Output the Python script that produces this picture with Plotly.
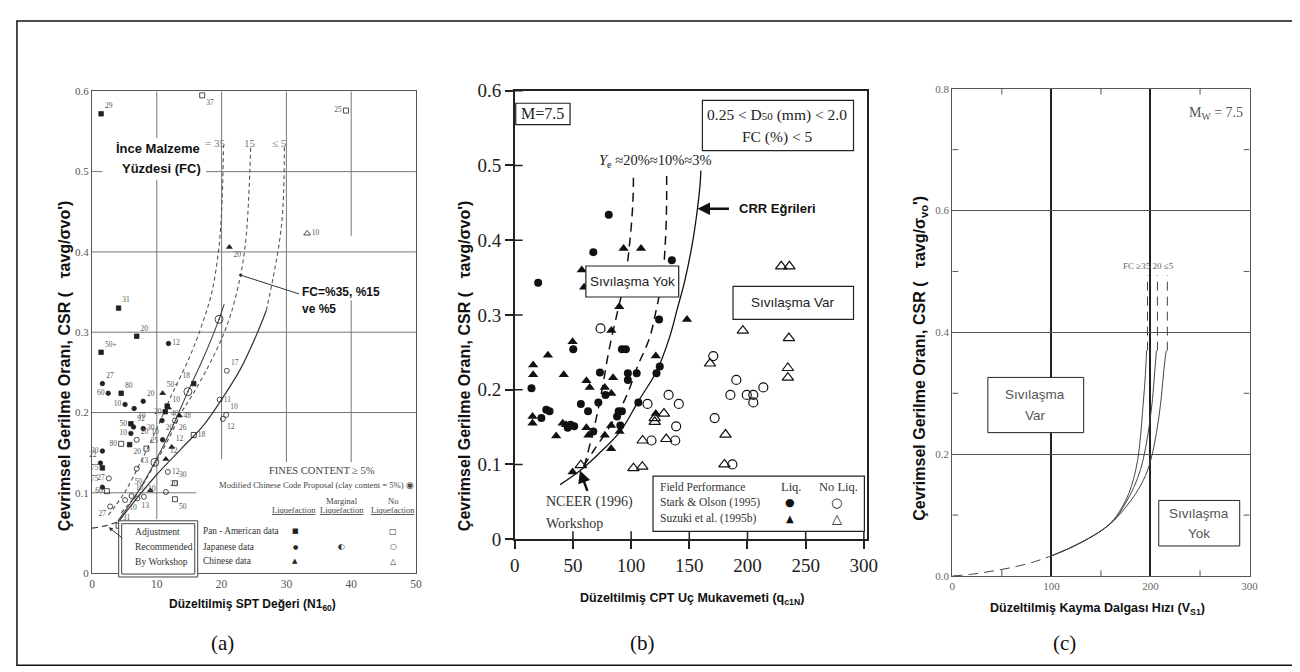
import plotly.graph_objects as go

W, H = 1300, 672
def PX(x): return x / W
def PY(y): return 1 - y / H

SERIF = "Liberation Serif, Times New Roman, serif"
SANS = "Liberation Sans, Arial, sans-serif"
GLYPH = "DejaVu Sans, sans-serif"

# ---------------- Panel (a): SPT ----------------
a_x_ticks = [0, 10, 20, 30, 40, 50]
a_y_ticks = [0, 0.1, 0.2, 0.3, 0.4, 0.5, 0.6]
a_y_ticktext = ["0", "0.1", "0.2", "0.3", "0.4", "0.5", "0.6"]

# Pan-American liquefaction (filled squares)
a_pan_liq_x = [1.4, 4.1, 6.9, 1.4, 4.5, 15.7, 6.0, 5.8, 1.6, 11.3, 11.6]
a_pan_liq_y = [0.572, 0.330, 0.295, 0.275, 0.224, 0.236, 0.186, 0.160, 0.131, 0.201, 0.208]
a_pan_liq_t = ["29", "31", "20", "50+", "80", "18", "50", "20", "75", "20", "40"]
a_pan_liq_p = ["top right", "top right", "top right", "top right", "top right", "top left",
               "middle left", "bottom right", "middle left", "middle left", "bottom right"]
# Japanese liquefaction (filled circles)
a_jap_liq_x = [11.8, 1.6, 2.5, 7.9, 5.1, 6.5, 6.4, 7.9, 6.0, 10.9, 1.6, 1.3, 1.6, 10.8]
a_jap_liq_y = [0.286, 0.236, 0.224, 0.214, 0.210, 0.205, 0.182, 0.180, 0.174, 0.166, 0.152, 0.137, 0.107, 0.190]
a_jap_liq_t = ["12", "27", "60", "20", "10", "10", "92", "30", "10", "10", "30", "22", "75", "20"]
a_jap_liq_p = ["middle right", "top right", "middle left", "top right", "middle left", "bottom right",
               "top right", "middle right", "middle left", "top left", "middle left", "top left",
               "top left", "bottom right"]
# Chinese liquefaction (filled triangles)
a_chi_liq_x = [21.2, 10.9, 12.3, 11.4, 9.0, 11.8, 13.5]
a_chi_liq_y = [0.406, 0.224, 0.157, 0.142, 0.103, 0.206, 0.196]
a_chi_liq_t = ["20", "50+", "12", "12", "50+", "10", "48"]
a_chi_liq_p = ["bottom right", "top right", "top right", "top right", "top left", "top right", "middle right"]
# Pan-American no liquefaction (open squares)
a_pan_no_x = [17.0, 39.2, 15.7, 4.5, 8.4, 12.8, 12.8, 2.3, 4.1]
a_pan_no_y = [0.595, 0.576, 0.172, 0.161, 0.155, 0.112, 0.092, 0.102, 0.059]
a_pan_no_t = ["37", "25", "18", "80", "25", "30", "50", "60", "31"]
a_pan_no_p = ["bottom right", "middle left", "middle right", "middle left", "top right", "top right",
              "bottom right", "middle left", "top right"]
# Japanese no liquefaction (open circles)
a_jap_no_x = [20.8, 19.7, 20.7, 20.2, 12.8, 6.9, 6.9, 2.6, 11.7, 11.4, 6.1, 8.0, 7.0, 5.1, 2.8]
a_jap_no_y = [0.252, 0.216, 0.197, 0.192, 0.190, 0.166, 0.130, 0.118, 0.126, 0.101, 0.096, 0.095, 0.093, 0.091, 0.083]
a_jap_no_t = ["17", "11", "10", "12", "26", "20", "13", "27", "12", "20", "10", "10", "13", "10", "27"]
a_jap_no_p = ["top right", "middle right", "top right", "bottom right", "bottom right", "top right",
              "top right", "middle left", "middle right", "top right", "top right", "top right",
              "bottom right", "bottom right", "bottom left"]
# Chinese no liquefaction (open triangles)
a_chi_no_x = [33.2]
a_chi_no_y = [0.423]
a_chi_no_t = ["10"]
# Modified Chinese Code proposal points
a_mcc_x = [19.6, 14.8, 9.7]
a_mcc_y = [0.316, 0.226, 0.138]

# Curves
a_fc35_x = [2.5, 5.0, 7.5, 10.0, 12.3, 15.0, 17.0, 18.5, 19.5, 20.0, 20.3]
a_fc35_y = [0.072, 0.10, 0.138, 0.18, 0.222, 0.268, 0.31, 0.35, 0.40, 0.45, 0.533]
a_fc15_x = [4.5, 7.0, 10.0, 12.0, 13.8, 15.5, 17.8, 19.9, 21.4, 22.9, 23.8, 24.5]
a_fc15_y = [0.075, 0.10, 0.14, 0.17, 0.20, 0.222, 0.255, 0.29, 0.322, 0.37, 0.42, 0.533]
a_chin_x = [4.0, 7.0, 9.7, 12.3, 14.8, 17.3, 19.6, 20.4]
a_chin_y = [0.065, 0.10, 0.138, 0.18, 0.226, 0.27, 0.316, 0.335]
a_fc5_x = [4.2, 6.2, 9.7, 13.8, 17.3, 19.9, 22.9, 25.4, 26.9]
a_fc5_y = [0.065, 0.086, 0.12, 0.155, 0.185, 0.215, 0.254, 0.297, 0.327]
a_fc5_top_x = [26.9, 28.0, 29.0, 29.5, 29.7]
a_fc5_top_y = [0.327, 0.37, 0.417, 0.46, 0.533]
a_adj_x = [0.0, 1.5, 3.0, 4.2]
a_adj_y = [0.056, 0.058, 0.061, 0.065]

# ---------------- Panel (b): CPT ----------------
b_x_ticks = [0, 50, 100, 150, 200, 250, 300]
b_y_ticks = [0, 0.1, 0.2, 0.3, 0.4, 0.5, 0.6]
b_y_ticktext = ["0", "0.1", "0.2", "0.3", "0.4", "0.5", "0.6"]

b_so_liq_x = [80.8, 20.1, 67.5, 135, 124, 50.3, 92.1, 95.5, 14.4, 73.2, 97.2, 97.2, 104.8, 124.6, 121.8,
              78, 106.2, 56.8, 71.8, 63, 22.9, 27.1, 29.9, 45.5, 51.1, 48, 67.5, 87.9, 89.3, 92.1, 90.7]
b_so_liq_y = [0.434, 0.343, 0.384, 0.373, 0.294, 0.254, 0.254, 0.254, 0.202, 0.223, 0.222, 0.213, 0.222, 0.231,
              0.222, 0.193, 0.183, 0.181, 0.183, 0.171, 0.162, 0.173, 0.171, 0.149, 0.151, 0.153, 0.144,
              0.164, 0.171, 0.171, 0.152]
b_su_liq_x = [93.5, 108.5, 57.6, 59.6, 89.8, 148, 83, 49.7, 28.5, 121.2, 15.8, 15.8, 42.1, 61.6, 64.4, 77.4,
              84.5, 83, 15.3, 15.3, 35.6, 41.2, 44.1, 61.6, 63.3, 77.4, 82.8, 82.8, 90.1, 121.2, 49.7]
b_su_liq_y = [0.389, 0.389, 0.360, 0.337, 0.311, 0.294, 0.279, 0.264, 0.246, 0.245, 0.233, 0.220, 0.220,
              0.212, 0.203, 0.203, 0.216, 0.195, 0.164, 0.155, 0.138, 0.155, 0.153, 0.149, 0.139, 0.139,
              0.152, 0.121, 0.144, 0.168, 0.090]
b_so_no_x = [73.7, 170.6, 190.4, 185.3, 199.4, 205, 213.6, 205, 132.2, 141, 114.1, 117.5, 137.9, 138.7, 171.8, 187]
b_so_no_y = [0.282, 0.245, 0.213, 0.193, 0.193, 0.193, 0.203, 0.183, 0.193, 0.181, 0.181, 0.132, 0.132,
             0.151, 0.162, 0.100]
b_su_no_x = [196, 229, 236, 235.6, 167.8, 234.7, 234.7, 120.3, 120.3, 128.2, 109.9, 130.2, 102, 109.6, 56.8, 181.1, 180.2]
b_su_no_y = [0.279, 0.365, 0.365, 0.269, 0.235, 0.229, 0.216, 0.162, 0.157, 0.168, 0.132, 0.134, 0.095,
             0.097, 0.099, 0.140, 0.100]

b_crr3_x = [39, 57, 72, 91, 106, 122, 133, 140, 146, 152, 156, 159, 160]
b_crr3_y = [0.073, 0.093, 0.114, 0.145, 0.184, 0.225, 0.27, 0.31, 0.345, 0.39, 0.43, 0.47, 0.493]
b_crr10_x = [59, 68, 81, 95, 106, 116, 122, 127, 129.5, 130.5, 130.5]
b_crr10_y = [0.097, 0.119, 0.149, 0.188, 0.233, 0.27, 0.31, 0.35, 0.40, 0.45, 0.49]
b_crr20_x = [59.6, 62.5, 69.5, 75, 81, 89, 95, 99, 101.5, 102]
b_crr20_y = [0.097, 0.114, 0.158, 0.20, 0.253, 0.309, 0.35, 0.40, 0.45, 0.487]

# ---------------- Panel (c): Vs ----------------
c_x_ticks = [0, 100, 200, 300]
c_x_minor = [50, 150, 250]
c_y_ticks = [0, 0.2, 0.4, 0.6, 0.8]
c_y_minor = [0.1, 0.3, 0.5, 0.7]
c_y_ticktext = ["0.0", "0.2", "0.4", "0.6", "0.8"]
c_low_x = [0, 20, 40, 60, 80, 100]
c_low_y = [0, 0.003, 0.008, 0.014, 0.022, 0.033]
c_fc35_x = [100, 120, 140, 155, 165, 172, 178, 183, 187, 190, 192, 194, 195.5, 196]
c_fc35_y = [0.033, 0.047, 0.064, 0.08, 0.097, 0.115, 0.135, 0.16, 0.19, 0.23, 0.27, 0.31, 0.35, 0.37]
c_fc20_x = [100, 120, 140, 155, 165, 175, 183, 190, 195, 199, 202, 204, 205.5, 206]
c_fc20_y = [0.033, 0.047, 0.064, 0.08, 0.095, 0.12, 0.145, 0.175, 0.21, 0.25, 0.29, 0.33, 0.36, 0.37]
c_fc5_x = [100, 120, 140, 155, 165, 175, 185, 195, 201, 206, 210, 213, 215, 216]
c_fc5_y = [0.033, 0.047, 0.064, 0.08, 0.094, 0.113, 0.135, 0.165, 0.195, 0.235, 0.28, 0.33, 0.36, 0.37]
c_asym_x = [197, 207, 217]
c_asym_y0 = 0.37
c_asym_y1 = 0.494

fig = go.Figure()

# ---- panel (a) traces ----
def a_curve(x, y, dash, color="#555", width=1.1):
    fig.add_trace(go.Scatter(x=x, y=y, mode="lines", line=dict(color=color, width=width, dash=dash, shape="spline"),
                             xaxis="x", yaxis="y", hoverinfo="skip"))

a_curve(a_fc35_x, a_fc35_y, "4px,3px")
a_curve(a_fc15_x, a_fc15_y, "4px,3px")
a_curve(a_chin_x, a_chin_y, "solid", "#444", 1.1)
a_curve(a_fc5_x, a_fc5_y, "solid", "#333", 1.2)
a_curve(a_fc5_top_x, a_fc5_top_y, "4px,3px")
a_curve(a_adj_x, a_adj_y, "6px,4px", "#333", 1.1)

def a_pts(x, y, t, p, symbol, size, lw=0.8):
    fig.add_trace(go.Scatter(x=x, y=y, text=t, textposition=p, mode="markers+text",
                             marker=dict(symbol=symbol, size=size, color="#222", line=dict(color="#222", width=lw)),
                             textfont=dict(family=SERIF, size=7.5, color="#555"),
                             xaxis="x", yaxis="y", cliponaxis=False, hoverinfo="skip"))

a_pts(a_pan_liq_x, a_pan_liq_y, a_pan_liq_t, a_pan_liq_p, "square", 4.5)
a_pts(a_jap_liq_x, a_jap_liq_y, a_jap_liq_t, a_jap_liq_p, "circle", 4.5)
a_pts(a_chi_liq_x, a_chi_liq_y, a_chi_liq_t, a_chi_liq_p, "triangle-up", 5)
a_pts(a_pan_no_x, a_pan_no_y, a_pan_no_t, a_pan_no_p, "square-open", 5)
a_pts(a_jap_no_x, a_jap_no_y, a_jap_no_t, a_jap_no_p, "circle-open", 5)
a_pts(a_chi_no_x, a_chi_no_y, a_chi_no_t, ["middle right"], "triangle-up-open", 6)
fig.add_trace(go.Scatter(x=a_mcc_x, y=a_mcc_y, mode="markers",
                         marker=dict(symbol="circle-open-dot", size=8, color="#333", line=dict(width=0.9)),
                         xaxis="x", yaxis="y", hoverinfo="skip"))

# ---- panel (b) traces ----
fig.add_trace(go.Scatter(x=b_crr3_x, y=b_crr3_y, mode="lines", line=dict(color="#111", width=1.3, shape="spline"),
                         xaxis="x2", yaxis="y2", hoverinfo="skip"))
fig.add_trace(go.Scatter(x=b_crr10_x, y=b_crr10_y, mode="lines",
                         line=dict(color="#111", width=1.5, dash="9px,6px", shape="spline"),
                         xaxis="x2", yaxis="y2", hoverinfo="skip"))
fig.add_trace(go.Scatter(x=b_crr20_x, y=b_crr20_y, mode="lines",
                         line=dict(color="#111", width=1.5, dash="9px,6px", shape="spline"),
                         xaxis="x2", yaxis="y2", hoverinfo="skip"))
fig.add_trace(go.Scatter(x=b_so_liq_x, y=b_so_liq_y, mode="markers",
                         marker=dict(symbol="circle", size=8, color="#111"), xaxis="x2", yaxis="y2", hoverinfo="skip"))
fig.add_trace(go.Scatter(x=b_su_liq_x, y=b_su_liq_y, mode="markers",
                         marker=dict(symbol="triangle-up", size=9, color="#111"), xaxis="x2", yaxis="y2", hoverinfo="skip"))
fig.add_trace(go.Scatter(x=b_so_no_x, y=b_so_no_y, mode="markers",
                         marker=dict(symbol="circle-open", size=9, color="#111", line=dict(width=1.2)),
                         xaxis="x2", yaxis="y2", hoverinfo="skip"))
fig.add_trace(go.Scatter(x=b_su_no_x, y=b_su_no_y, mode="markers",
                         marker=dict(symbol="triangle-up-open", size=10, color="#111", line=dict(width=1.2)),
                         xaxis="x2", yaxis="y2", hoverinfo="skip"))

# ---- panel (c) traces ----
fig.add_trace(go.Scatter(x=c_low_x, y=c_low_y, mode="lines", line=dict(color="#444", width=1, dash="10px,6px", shape="spline"),
                         xaxis="x3", yaxis="y3", hoverinfo="skip"))
for cx, cy in [(c_fc35_x, c_fc35_y), (c_fc20_x, c_fc20_y), (c_fc5_x, c_fc5_y)]:
    fig.add_trace(go.Scatter(x=cx, y=cy, mode="lines", line=dict(color="#444", width=1, shape="spline"),
                             xaxis="x3", yaxis="y3", hoverinfo="skip"))
for ax_ in c_asym_x:
    fig.add_trace(go.Scatter(x=[ax_, ax_], y=[c_asym_y0, c_asym_y1], mode="lines",
                             line=dict(color="#444", width=1, dash="9px,6px"),
                             xaxis="x3", yaxis="y3", hoverinfo="skip"))

# ---------------- layout ----------------
shapes = []
def seg(x0, y0, x1, y1, xref, yref, color="#666", width=1, dash="solid", layer="below"):
    shapes.append(dict(type="line", x0=x0, y0=y0, x1=x1, y1=y1, xref=xref, yref=yref,
                       line=dict(color=color, width=width, dash=dash), layer=layer))
def rect(x0, y0, x1, y1, color="#222", width=1, fill="rgba(0,0,0,0)", layer="above"):
    shapes.append(dict(type="rect", x0=PX(x0), x1=PX(x1), y0=PY(y1), y1=PY(y0), xref="paper", yref="paper",
                       line=dict(color=color, width=width), fillcolor=fill, layer=layer))

# panel (a) partial grid
g = "#777"
seg(0, 0.5, 1.6, 0.5, "x", "y", g); seg(17.6, 0.5, 50, 0.5, "x", "y", g)
seg(0, 0.4, 50, 0.4, "x", "y", g)
seg(0, 0.3, 50, 0.3, "x", "y", g)
seg(0, 0.2, 50, 0.2, "x", "y", g)
seg(0, 0.1, 16.1, 0.1, "x", "y", g)
seg(10, 0.6, 10, 0.542, "x", "y", g); seg(10, 0.49, 10, 0.067, "x", "y", g)
seg(20, 0.6, 20, 0.142, "x", "y", g)
seg(30, 0.6, 30, 0.138, "x", "y", g)
seg(40, 0.6, 40, 0.42, "x", "y", g); seg(40, 0.344, 40, 0.138, "x", "y", g)

# panel (b) inner tick halves
for v in b_x_ticks[1:]:
    seg(v, 0, v, 0.0105, "x2", "y2", "#222", 1.5, layer="above")
for v in b_y_ticks[1:]:
    seg(0, v, 6.8, v, "x2", "y2", "#222", 1.5, layer="above")
# panel (c) minor inside ticks on all four sides
for v in c_x_minor:
    seg(v, 0, v, 0.0095, "x3", "y3", "#555", 1, layer="above")
    seg(v, 0.8, v, 0.7905, "x3", "y3", "#555", 1, layer="above")
for v in c_y_minor:
    seg(0, v, 6, v, "x3", "y3", "#555", 1, layer="above")
    seg(300, v, 294, v, "x3", "y3", "#555", 1, layer="above")

# outer frame
rect(4, 3, 1296, 668, color="#111", width=1.5, layer="below")
# panel (a) adjustment box (double border)
rect(107, 519, 187, 577, color="#444", width=1, fill="white")
rect(110, 522, 184, 574, color="#444", width=1)
# panel (b) boxes
rect(509, 88, 564, 110, color="#222", width=1.2, fill="white")
rect(698, 85, 851, 137, color="#222", width=1.2, fill="white")
rect(580, 256, 674, 288, color="#222", width=1.2, fill="white")
rect(729, 277, 851, 311, color="#222", width=1.2, fill="white")
rect(648, 473, 862, 530, color="#222", width=1.2, fill="white")
# panel (c) boxes
rect(987, 371, 1084, 428, color="#222", width=1, fill="white")
rect(1160, 498, 1242, 545, color="#222", width=1, fill="white")

anns = []
def T(text, x, y, size, font=SERIF, color="#222", xa="center", ya="middle", angle=0, bg=None):
    d = dict(text=text, x=PX(x), y=PY(y), xref="paper", yref="paper", showarrow=False,
             font=dict(family=font, size=size, color=color), xanchor=xa, yanchor=ya, textangle=angle)
    if bg:
        d["bgcolor"] = bg
    anns.append(d)

# panel (a) texts
T("<b>İnce Malzeme</b>", 147, 135, 13, SANS, "#111", bg="white")
T("<b>Yüzdesi (FC)</b>", 150, 155, 13, SANS, "#111", bg="white")
T("= 35", 205, 129, 11, SERIF, "#777")
T("15", 240, 129, 11, SERIF, "#777")
T("≤ 5", 270, 129, 11, SERIF, "#777")
T("<b>FC=%35, %15</b>", 291, 283, 12, SANS, "#111", xa="left", bg="white")
T("<b>ve %5</b>", 291, 300, 12, SANS, "#111", xa="left")
T("FINES CONTENT ≥ 5%", 313, 467, 10.5, SERIF, "#444")
T("Modified Chinese Code Proposal (clay content = 5%) ◉", 307, 482, 8.6, SERIF, "#444")
T("Marginal", 333, 499, 8.5, SERIF, "#444")
T("No", 385, 499, 8.5, SERIF, "#444")
T("<u>Liquefaction</u>", 285, 508, 8.5, SERIF, "#444")
T("<u>Liquefaction</u>", 333, 508, 8.5, SERIF, "#444")
T("<u>Liquefaction</u>", 385, 508, 8.5, SERIF, "#444")
T("Pan - American data", 190, 530, 9.3, SERIF, "#333", xa="left")
T("Japanese data", 190, 546, 9.3, SERIF, "#333", xa="left")
T("Chinese data", 190, 561, 9.3, SERIF, "#333", xa="left")
T("Adjustment", 122, 530, 9.6, SERIF, "#333", xa="left")
T("Recommended", 122, 546, 9.6, SERIF, "#333", xa="left")
T("By Workshop", 122, 561, 9.6, SERIF, "#333", xa="left")
T("■", 286, 530, 7, GLYPH, "#222"); T("□", 385, 530, 8, GLYPH, "#333")
T("●", 286, 546, 6, GLYPH, "#222"); T("◐", 333, 546, 8, GLYPH, "#333"); T("○", 385, 546, 8, GLYPH, "#333")
T("▲", 286, 561, 7, GLYPH, "#222"); T("△", 385, 561, 8, GLYPH, "#333")
T("<b>Düzeltilmiş SPT Değeri (N1<sub>60</sub>)</b>", 242, 606, 12, SANS, "#111")
T("<b>Çevrimsel Gerilme Oranı, CSR (   τavg/σvo')</b>", 52, 359, 16, SANS, "#111", angle=-90)

# panel (b) texts
T("M=7.5", 536.5, 99, 16, SERIF, "#222")
T("0.25 < D<span style='font-size:11px'>50</span> (mm) < 2.0", 774, 100, 15.5, SERIF, "#222")
T("FC (%) < 5", 774, 123, 15.5, SERIF, "#222")
T("<i>Y</i><sub>e</sub> ≈20%≈10%≈3%", 651, 148, 14.5, SERIF, "#222")
T("<b>CRR Eğrileri</b>", 733, 197, 13, SANS, "#111", xa="left")
T("Sıvılaşma Yok", 627, 272, 13.5, SANS, "#222")
T("Sıvılaşma Var", 790, 294, 13.5, SANS, "#222")
T("NCEER (1996)", 538, 500, 14, SERIF, "#333", xa="left")
T("Workshop", 538, 522, 14, SERIF, "#333", xa="left")
T("Field Performance", 653, 484, 11.5, SERIF, "#333", xa="left")
T("Stark & Olson (1995)", 653, 500, 11.5, SERIF, "#333", xa="left")
T("Suzuki et al. (1995b)", 653, 517, 11.5, SERIF, "#333", xa="left")
T("Liq.", 788, 484, 12.5, SERIF, "#333")
T("No Liq.", 836, 484, 12.5, SERIF, "#333")
T("●", 787, 500, 11, GLYPH, "#111"); T("○", 834, 500, 13, GLYPH, "#111")
T("▲", 787, 517, 10, GLYPH, "#111"); T("△", 834, 517, 13, GLYPH, "#111")
T("<b>Düzeltilmiş CPT Uç Mukavemeti (q<sub>c1N</sub>)</b>", 687, 600, 12.5, SANS, "#111")
T("<b>Çevrimsel Gerilme Oranı, CSR (   τavg/σvo')</b>", 457, 359, 16, SANS, "#111", angle=-90)

# panel (c) texts
T("M<sub>W</sub> = 7.5", 1247, 99, 14, SERIF, "#555", xa="right")
T("FC ≥35 20 ≤5", 1150, 256, 9, SERIF, "#666")
T("Sıvılaşma", 1035, 389, 13.5, SANS, "#555")
T("Var", 1035, 410, 13.5, SANS, "#555")
T("Sıvılaşma", 1201, 511, 13.5, SANS, "#555")
T("Yok", 1201, 532, 13.5, SANS, "#555")
T("<b>Düzeltilmiş Kayma Dalgası Hızı (V<sub>S1</sub>)</b>", 1098, 610, 12.5, SANS, "#111")
T("<b>Çevrimsel Gerilme Oranı, CSR (   τavg/σ<sub>vo</sub>')</b>", 918, 351, 16, SANS, "#111", angle=-90)

# captions
T("(a)", 212, 645, 21, SERIF, "#111")
T("(b)", 637, 645, 21, SERIF, "#111")
T("(c)", 1065, 645, 21, SERIF, "#111")

# arrows (tail offsets in pixels)
anns.append(dict(x=22.6, y=0.372, xref="x", yref="y", ax=62, ay=20,
                 showarrow=True, arrowhead=2, arrowsize=0.7, arrowwidth=1, arrowcolor="#333", text=""))
anns.append(dict(x=2.6, y=0.057, xref="x", yref="y", ax=15, ay=12,
                 showarrow=True, arrowhead=2, arrowsize=0.8, arrowwidth=1, arrowcolor="#333", text=""))
anns.append(dict(x=PX(693), y=PY(197), xref="paper", yref="paper", ax=33, ay=0,
                 showarrow=True, arrowhead=2, arrowsize=1, arrowwidth=2.5, arrowcolor="#111", text=""))
anns.append(dict(x=56, y=0.092, xref="x2", yref="y2", ax=8, ay=22,
                 showarrow=True, arrowhead=2, arrowsize=1, arrowwidth=2.5, arrowcolor="#111", text=""))

axis_common = dict(showgrid=False, zeroline=False)
fig.update_layout(
    width=W, height=H, margin=dict(l=0, r=0, t=0, b=0),
    paper_bgcolor="white", plot_bgcolor="rgba(0,0,0,0)", showlegend=False,
    shapes=shapes, annotations=anns,
    xaxis=dict(domain=[PX(80), PX(408)], range=[0, 50], anchor="y", tickvals=a_x_ticks,
               tickfont=dict(family=SERIF, size=11.5, color="#555"), showline=True, linecolor="#555",
               linewidth=1, mirror=True, ticks="", **axis_common),
    yaxis=dict(domain=[PY(573), PY(75.7)], range=[0, 0.6], anchor="x", tickvals=a_y_ticks, ticktext=a_y_ticktext,
               tickfont=dict(family=SERIF, size=11, color="#555"), showline=True, linecolor="#555",
               linewidth=1, mirror=True, ticks="", **axis_common),
    xaxis2=dict(domain=[PX(508), PX(865)], range=[0, 303], anchor="y2", tickvals=b_x_ticks,
                tickfont=dict(family=SERIF, size=19, color="#222"), showline=True, linecolor="#222",
                linewidth=1.5, mirror=True, ticks="outside", ticklen=8, tickwidth=1.5, tickcolor="#222",
                **axis_common),
    yaxis2=dict(domain=[PY(538), PY(75)], range=[0, 0.6], anchor="x2", tickvals=b_y_ticks, ticktext=b_y_ticktext,
                tickfont=dict(family=SERIF, size=19, color="#222"), showline=True, linecolor="#222",
                linewidth=1.5, mirror=True, ticks="outside", ticklen=8, tickwidth=1.5, tickcolor="#222",
                **axis_common),
    xaxis3=dict(domain=[PX(951), PX(1252)], range=[0, 300], anchor="y3", tickvals=c_x_ticks,
                tickfont=dict(family=SERIF, size=11, color="#666"), showline=True, linecolor="#555",
                linewidth=1.2, mirror=True, ticks="", showgrid=True, gridcolor="#222", gridwidth=1.8,
                zeroline=False),
    yaxis3=dict(domain=[PY(576), PY(73)], range=[0, 0.8], anchor="x3", tickvals=c_y_ticks, ticktext=c_y_ticktext,
                tickfont=dict(family=SERIF, size=11, color="#666"), showline=True, linecolor="#555",
                linewidth=1.2, mirror=True, ticks="", showgrid=True, gridcolor="#555", gridwidth=1,
                zeroline=False),
)

fig.write_html("out.html")
